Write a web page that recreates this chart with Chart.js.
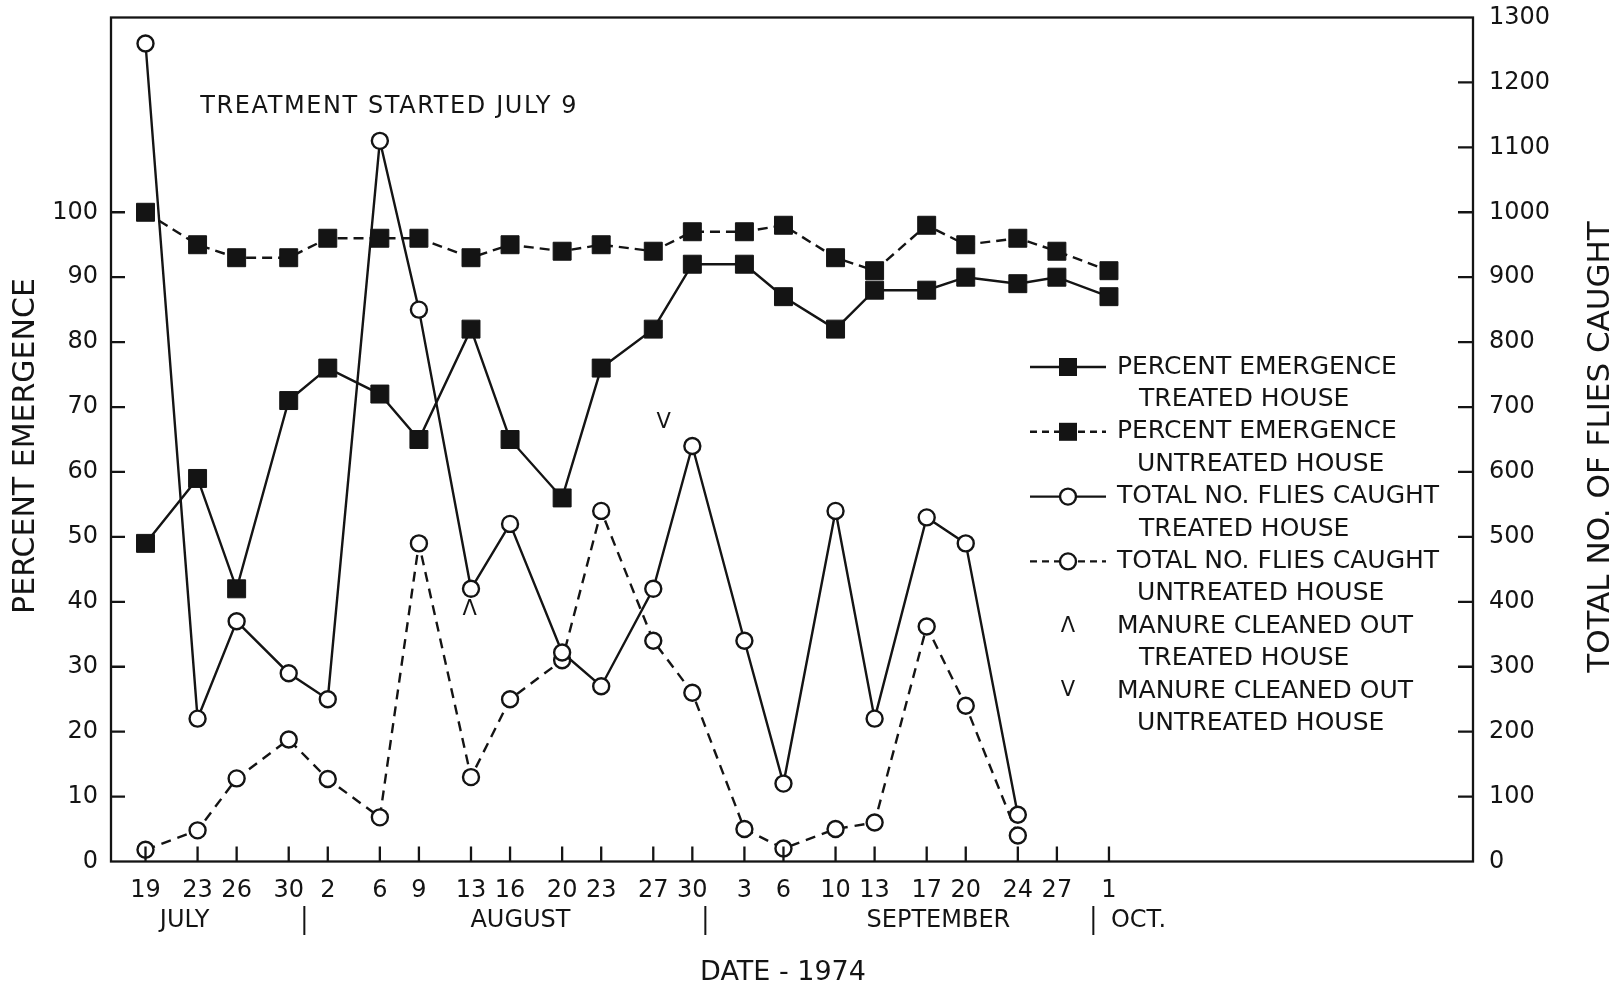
<!DOCTYPE html>
<html>
<head>
<meta charset="utf-8">
<script src="https://cdn.jsdelivr.net/npm/chart.js@4.4.1/dist/chart.umd.min.js"></script>
<style>
  html, body { margin: 0; padding: 0; background: #fff; }
  canvas { display: block; }
</style>
</head>
<body>
<canvas id="c" width="1622" height="985"></canvas>
<script>
// ---------------- DATA ----------------
const dates = ['1974-07-19','1974-07-23','1974-07-26','1974-07-30','1974-08-02','1974-08-06','1974-08-09',
               '1974-08-13','1974-08-16','1974-08-20','1974-08-23','1974-08-27','1974-08-30','1974-09-03',
               '1974-09-06','1974-09-10','1974-09-13','1974-09-17','1974-09-20','1974-09-24','1974-09-27','1974-10-01'];
const tickLabels = ['19','23','26','30','2','6','9','13','16','20','23','27','30','3','6','10','13','17','20','24','27','1'];
const monthLabels = ['JULY','AUGUST','SEPTEMBER','OCT.'];

// Percent emergence (left axis)
const pctTreated   = [49, 59, 42, 71, 76, 72, 65, 82, 65, 56, 76, 82, 92, 92, 87, 82, 88, 88, 90, 89, 90, 87];
const pctUntreated = [100, 95, 93, 93, 96, 96, 96, 93, 95, 94, 95, 94, 97, 97, 98, 93, 91, 98, 95, 96, 94, 91];
// Total no. of flies caught (right axis) - no values for Sep 27 / Oct 1
const fliesTreated   = [1260, 220, 370, 290, 250, 1110, 850, 420, 520, 322, 270, 420, 640, 340, 120, 540, 220, 530, 490, 72];
const fliesUntreated = [18, 48, 128, 188, 127, 68, 490, 130, 250, 310, 540, 340, 260, 50, 20, 50, 60, 362, 240, 40];

const leftTicks  = [0, 10, 20, 30, 40, 50, 60, 70, 80, 90, 100];
const rightTicks = [0, 100, 200, 300, 400, 500, 600, 700, 800, 900, 1000, 1100, 1200, 1300];

const legendRows = [
  ['PERCENT EMERGENCE', 'TREATED HOUSE'],
  ['PERCENT EMERGENCE', 'UNTREATED HOUSE'],
  ['TOTAL NO. FLIES CAUGHT', 'TREATED HOUSE'],
  ['TOTAL NO. FLIES CAUGHT', 'UNTREATED HOUSE'],
  ['MANURE CLEANED OUT', 'TREATED HOUSE'],
  ['MANURE CLEANED OUT', 'UNTREATED HOUSE']
];

// ---------------- HELPERS ----------------
const DAY = 86400000;
const xs = dates.map(d => (Date.parse(d) - Date.parse(dates[0])) / DAY);
const pts = vals => vals.map((v, i) => ({ x: xs[i], y: v }));

const INK = '#141414';
const FONT = '"DejaVu Sans", "Liberation Sans", sans-serif';

function txt(ctx, s, x, y, size, opts = {}) {
  ctx.save();
  ctx.font = `${size}px ${FONT}`;
  ctx.fillStyle = INK;
  ctx.textAlign = opts.align || 'center';
  ctx.textBaseline = 'middle';
  try { ctx.letterSpacing = (opts.ls || 0) + 'px'; } catch (e) {}
  if (opts.rot) { ctx.translate(x, y); ctx.rotate(opts.rot); ctx.fillText(s, 0, 0); }
  else ctx.fillText(s, x, y);
  ctx.restore();
}

const decor = {
  id: 'decor',
  beforeDraw(chart) {
    const ctx = chart.ctx;
    ctx.save();
    ctx.fillStyle = '#fff';
    ctx.fillRect(0, 0, chart.width, chart.height);
    ctx.restore();
  },
  afterDraw(chart) {
    const { ctx, chartArea: a, scales } = chart;
    const x = scales.x, y = scales.y, y1 = scales.y1;
    ctx.save();
    ctx.strokeStyle = INK;
    ctx.lineWidth = 2.3;
    ctx.strokeRect(a.left, a.top, a.right - a.left, a.bottom - a.top);
    // inward tick marks
    ctx.beginPath();
    leftTicks.forEach(v => { if (v > 0) { const p = y.getPixelForValue(v); ctx.moveTo(a.left, p); ctx.lineTo(a.left + 14, p); } });
    rightTicks.forEach(v => { if (v > 0 && v < 1300) { const p = y1.getPixelForValue(v); ctx.moveTo(a.right, p); ctx.lineTo(a.right - 15, p); } });
    xs.forEach(v => { const p = x.getPixelForValue(v); ctx.moveTo(p, a.bottom); ctx.lineTo(p, a.bottom - 15); });
    ctx.stroke();

    // month row
    const my = 921;
    txt(ctx, monthLabels[0], x.getPixelForValue(3.0), my, 24);
    txt(ctx, monthLabels[1], x.getPixelForValue(28.8), my, 24);
    txt(ctx, monthLabels[2], x.getPixelForValue(60.9), my, 24);
    txt(ctx, monthLabels[3], x.getPixelForValue(74.15), my, 24, { align: 'left' });
    ctx.lineWidth = 2;
    ctx.beginPath();
    [12.2, 43.0, 72.8].forEach(d => { const p = x.getPixelForValue(d); ctx.moveTo(p, 906); ctx.lineTo(p, 935); });
    ctx.stroke();

    // axis titles
    txt(ctx, 'DATE - 1974', 783, 973, 27);
    txt(ctx, 'PERCENT EMERGENCE', 26, 446, 30, { rot: -Math.PI / 2 });
    txt(ctx, 'TOTAL NO. OF FLIES CAUGHT', 1601, 447, 31, { rot: -Math.PI / 2 });

    // annotations
    txt(ctx, 'TREATMENT STARTED JULY 9', x.getPixelForValue(4.2), y.getPixelForValue(116.3), 24, { align: 'left', ls: 1.6 });
    txt(ctx, 'Λ', x.getPixelForValue(24.9), y.getPixelForValue(38.8), 21);
    txt(ctx, 'V', x.getPixelForValue(39.8), y.getPixelForValue(67.6), 21);

    // legend
    const lx0 = 1030, lx1 = 1106, mx = 1068, tx = 1117, tx2 = 1139;
    const y0 = 367, step = 32.4;
    legendRows.forEach((r, i) => {
      const ry = y0 + step * 2 * i;
      txt(ctx, r[0], tx, ry, 25, { align: 'left' });
      txt(ctx, r[1], r[1].startsWith('UN') ? tx2 - 2 : tx2, ry + step, 25, { align: 'left' });
      if (i < 4) {
        ctx.save();
        ctx.strokeStyle = INK;
        ctx.lineWidth = 2.4;
        ctx.setLineDash(i % 2 === 1 ? [7, 5] : []);
        ctx.beginPath(); ctx.moveTo(lx0, ry); ctx.lineTo(lx1, ry); ctx.stroke();
        ctx.setLineDash([]);
        if (i < 2) {
          ctx.fillStyle = INK;
          ctx.fillRect(mx - 9, ry - 9, 18, 18);
        } else {
          ctx.fillStyle = '#fff';
          ctx.beginPath(); ctx.arc(mx, ry, 8, 0, Math.PI * 2); ctx.fill(); ctx.stroke();
        }
        ctx.restore();
      } else {
        txt(ctx, i === 4 ? 'Λ' : 'V', mx, ry, 21);
      }
    });
    ctx.restore();
  }
};

const squareStyle = {
  pointStyle: 'rect', pointRadius: 12.7, pointBackgroundColor: INK, pointBorderColor: INK, pointBorderWidth: 1
};
const circleStyle = {
  pointStyle: 'circle', pointRadius: 8, pointBackgroundColor: '#fff', pointBorderColor: INK, pointBorderWidth: 2.4
};

const noPadV = s => { s.paddingTop = 0; s.paddingBottom = 0; };

new Chart(document.getElementById('c'), {
  type: 'line',
  data: {
    datasets: [
      Object.assign({ label: 'Percent emergence treated house', data: pts(pctTreated), yAxisID: 'y',
        borderColor: INK, borderWidth: 2.4, tension: 0 }, squareStyle),
      Object.assign({ label: 'Percent emergence untreated house', data: pts(pctUntreated), yAxisID: 'y',
        borderColor: INK, borderWidth: 2.4, borderDash: [10, 6], tension: 0 }, squareStyle),
      Object.assign({ label: 'Total no. flies caught treated house', data: pts(fliesTreated), yAxisID: 'y1',
        borderColor: INK, borderWidth: 2.4, tension: 0 }, circleStyle),
      Object.assign({ label: 'Total no. flies caught untreated house', data: pts(fliesUntreated), yAxisID: 'y1',
        borderColor: INK, borderWidth: 2.4, borderDash: [10, 7], tension: 0 }, circleStyle)
    ]
  },
  options: {
    responsive: false,
    devicePixelRatio: 1,
    animation: false,
    events: [],
    layout: { padding: { top: 17.5, left: 0, right: 0, bottom: 0 } },
    plugins: { legend: { display: false }, tooltip: { enabled: false } },
    scales: {
      x: {
        type: 'linear', position: 'bottom', min: -2.65, max: 101.96,
        grid: { display: false, drawTicks: false },
        border: { display: false },
        afterBuildTicks: s => { s.ticks = xs.map(v => ({ value: v })); },
        afterFit: s => { s.height = 123.5; s.paddingLeft = 0; s.paddingRight = 0; },
        ticks: {
          autoSkip: false, maxRotation: 0, minRotation: 0, padding: 15, color: INK,
          font: { family: FONT, size: 24 },
          callback: (v, i) => tickLabels[i]
        }
      },
      y: {
        type: 'linear', position: 'left', min: 0, max: 130,
        grid: { display: false, drawTicks: false },
        border: { display: false },
        afterBuildTicks: s => { s.ticks = leftTicks.map(v => ({ value: v })); },
        afterFit: s => { s.width = 111; noPadV(s); },
        ticks: { padding: 13, color: INK, font: { family: FONT, size: 24 }, autoSkip: false,
                 callback: v => String(v) }
      },
      y1: {
        type: 'linear', position: 'right', min: 0, max: 1300,
        grid: { display: false, drawTicks: false },
        border: { display: false },
        afterBuildTicks: s => { s.ticks = rightTicks.map(v => ({ value: v })); },
        afterFit: s => { s.width = 149; noPadV(s); },
        ticks: { padding: 16, color: INK, font: { family: FONT, size: 24 }, autoSkip: false,
                 callback: v => String(v) }
      }
    }
  },
  plugins: [decor]
});
</script>
</body>
</html>
